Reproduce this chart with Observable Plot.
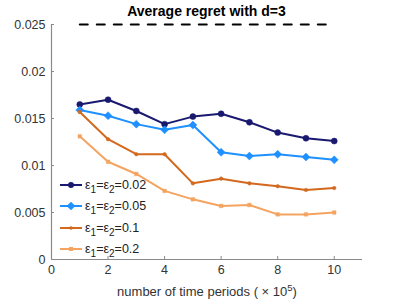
<!DOCTYPE html>
<html>
<head>
<meta charset="utf-8">
<script src="https://cdn.jsdelivr.net/npm/d3@7"></script>
<script src="https://cdn.jsdelivr.net/npm/@observablehq/plot@0.6"></script>
<style>
  html, body { margin: 0; padding: 0; background: #fff; }
  #wrap { position: relative; width: 399px; height: 299px; font-family: "Liberation Sans", Arial, sans-serif; }
  #title { position: absolute; left: 0; width: 413px; top: 3px; text-align: center; font-weight: bold; font-size: 14px; color: #000; }
  #legend { position: absolute; left: 60px; top: 174px; font-size: 12.5px; color: #222; }
  .row { height: 21.5px; display: flex; align-items: center; }
  .row svg { margin-right: 2px; }
  sub { font-size: 0.8em; vertical-align: -0.35em; line-height: 0; }
</style>
</head>
<body>
<div id="wrap">
  <div id="title">Average regret with d=3</div>
  <div id="legend"></div>
</div>
<script>
// ---- data ----
const periods = [1, 2, 3, 4, 5, 6, 7, 8, 9, 10];
const regret002 = [0.0165, 0.0170, 0.0158, 0.0144, 0.0152, 0.0155, 0.0146, 0.0135, 0.0129, 0.0126];
const regret005 = [0.0159, 0.0153, 0.0144, 0.0138, 0.0143, 0.0114, 0.0110, 0.0112, 0.0109, 0.0106];
const regret01  = [0.0157, 0.0128, 0.0112, 0.0112, 0.0081, 0.0086, 0.0081, 0.0078, 0.0074, 0.0076];
const regret02  = [0.0131, 0.0104, 0.0091, 0.0073, 0.0064, 0.0057, 0.0058, 0.0048, 0.0048, 0.0050];
const boundX = [1, 10];
const boundY = [0.025, 0.025];
const seriesNames = ["0.02", "0.05", "0.1", "0.2"];
const xTicks = [0, 2, 4, 6, 8, 10];
const yTicks = [0, 0.005, 0.01, 0.015, 0.02, 0.025];
const xLabelText = "number of time periods ( × 10";
const xLabelExp = "5";

// ---- styles ----
const series = [
  {name: seriesNames[0], values: regret002, color: "#191970", symbol: "circle", r: 3},
  {name: seriesNames[1], values: regret005, color: "#1e90ff", symbol: "diamond2", r: 3.6},
  {name: seriesNames[2], values: regret01,  color: "#d2691e", symbol: "circle", r: 1.8},
  {name: seriesNames[3], values: regret02,  color: "#f4a460", symbol: "square", r: 2}
];

const marks = [];
for (const s of series) {
  const data = periods.map((p, i) => ({x: p, y: s.values[i]}));
  marks.push(Plot.line(data, {x: "x", y: "y", stroke: s.color, strokeWidth: 2}));
  marks.push(Plot.dot(data, {x: "x", y: "y", fill: s.color, stroke: s.color, symbol: s.symbol, r: s.r, strokeWidth: 0.5}));
}
const bound = boundX.map((x, i) => ({x, y: boundY[i]}));
marks.push(Plot.line(bound, {x: "x", y: "y", stroke: "#000", strokeWidth: 2, strokeDasharray: "8,9"}));

const axisColor = "#8a8a8a";
const chart = Plot.plot({
  width: 399,
  height: 299,
  marginTop: 24,
  marginBottom: 40,
  marginLeft: 51,
  marginRight: 37,
  style: {fontFamily: "'Liberation Sans', Arial, sans-serif", fontSize: "12.5px", color: "#333", background: "#fff"},
  x: {domain: [0, 11]},
  y: {domain: [0, 0.025]},
  marks: [
    Plot.axisX({ticks: xTicks, tickSize: -3, tickPadding: 9, stroke: axisColor, fill: "#333",
      label: xLabelText + xLabelExp + ")", labelAnchor: "center", labelArrow: "none", labelOffset: 36, tickFormat: d => String(d)}),
    Plot.axisY({ticks: yTicks, tickSize: -3, tickPadding: 9, stroke: axisColor, fill: "#333", label: null, tickFormat: d => String(d)}),
    Plot.ruleY([0], {stroke: axisColor, strokeWidth: 1.2}),
    Plot.ruleX([0], {stroke: axisColor, strokeWidth: 1.2}),
    ...marks
  ]
});
const wrap = document.getElementById("wrap");
wrap.insertBefore(chart, wrap.firstChild);

// superscript in x label
const lbl = chart.querySelector('g[aria-label="x-axis label"] text');
if (lbl) {
  lbl.setAttribute("font-size", "13px");
  lbl.textContent = "";
  const ns = "http://www.w3.org/2000/svg";
  const t1 = document.createElementNS(ns, "tspan"); t1.textContent = xLabelText;
  const t2 = document.createElementNS(ns, "tspan"); t2.textContent = xLabelExp; t2.setAttribute("dy", "-5"); t2.setAttribute("font-size", "9.5px");
  const t3 = document.createElementNS(ns, "tspan"); t3.textContent = ")"; t3.setAttribute("dy", "5");
  lbl.append(t1, t2, t3);
}

// ---- legend ----
const legend = document.getElementById("legend");
const shapes = {
  circle: (c, r) => `<circle cx="11" cy="5" r="${r}" fill="${c}"/>`,
  diamond2: (c, r) => `<path d="M11,${5 - r * 1.2}L${11 + r * 1.2},5L11,${5 + r * 1.2}L${11 - r * 1.2},5Z" fill="${c}"/>`,
  square: (c, r) => `<rect x="${11 - r}" y="${5 - r}" width="${2 * r}" height="${2 * r}" fill="${c}"/>`
};
for (const s of series) {
  const row = document.createElement("div");
  row.className = "row";
  row.innerHTML = `<svg width="23" height="10"><line x1="0" y1="5" x2="22" y2="5" stroke="${s.color}" stroke-width="2"/>${shapes[s.symbol](s.color, s.r)}</svg><span>ε<sub>1</sub>=ε<sub>2</sub>=${s.name}</span>`;
  legend.appendChild(row);
}
</script>
</body>
</html>
